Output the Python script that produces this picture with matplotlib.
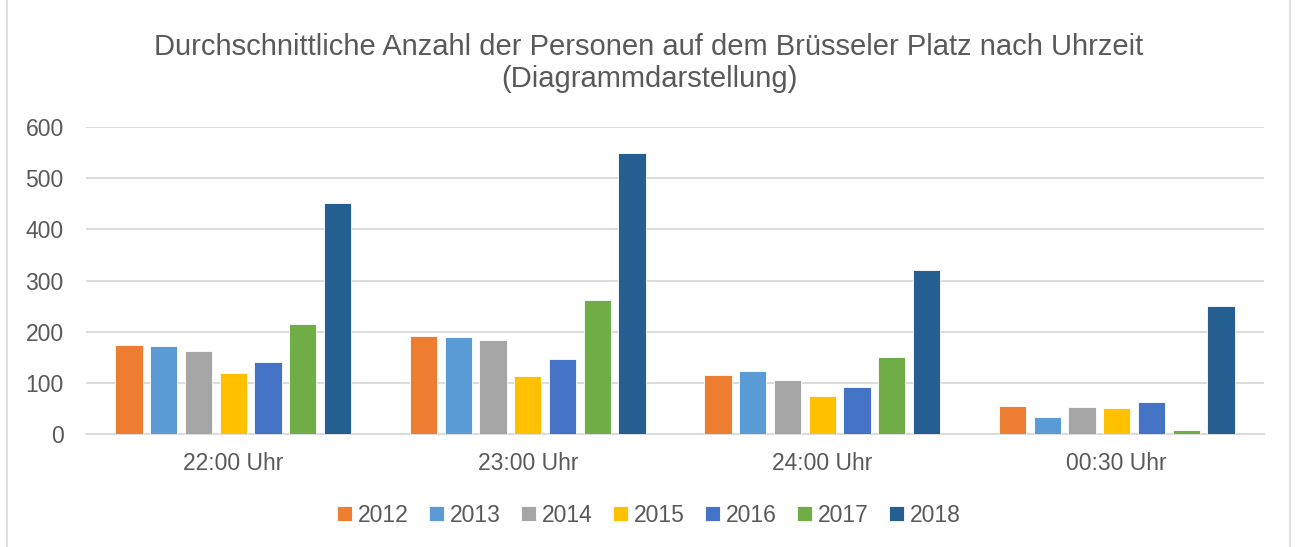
"""Grouped bar chart: persons on Brüsseler Platz by time of day."""
import numpy as np
import matplotlib.pyplot as plt
from matplotlib.patches import Rectangle

plt.rcParams['font.family'] = ['Liberation Sans', 'DejaVu Sans']

categories = ['22:00 Uhr', '23:00 Uhr', '24:00 Uhr', '00:30 Uhr']
years = ['2012', '2013', '2014', '2015', '2016', '2017', '2018']
values_2012 = [173, 191, 116, 54]
values_2013 = [172, 189, 123, 33]
values_2014 = [162, 183, 105, 52]
values_2015 = [119, 113, 75, 50]
values_2016 = [140, 147, 92, 63]
values_2017 = [215, 262, 150, 7]
values_2018 = [452, 550, 320, 251]
series = [values_2012, values_2013, values_2014, values_2015,
          values_2016, values_2017, values_2018]
colors = ['#ED7D31', '#5B9BD5', '#A5A5A5', '#FFC000',
          '#4472C4', '#70AD47', '#255E91']

fig = plt.figure(figsize=(12.98, 5.47), dpi=100)
ax = fig.add_axes([86 / 1298, 1 - 434 / 547, (1264 - 86) / 1298, (434 - 127) / 547])

x = np.arange(len(categories))
step = 0.118
width = 0.092
for i, (vals, year, col) in enumerate(zip(series, years, colors)):
    ax.bar(x + (i - 3) * step, vals, width, color=col, label=year,
           edgecolor='white', linewidth=0.6, zorder=3)

ax.set_xlim(-0.5, 3.5)
ax.set_ylim(0, 600)
ax.set_yticks(range(0, 601, 100))
ax.set_xticks(x)
ax.set_xticklabels(categories)
ax.grid(axis='y', color='#D9D9D9', linewidth=1.3, zorder=0)
for s in ['top', 'right', 'left']:
    ax.spines[s].set_visible(False)
ax.spines['bottom'].set_color('#D9D9D9')
ax.spines['bottom'].set_linewidth(1.3)
ax.tick_params(axis='both', length=0, labelsize=16.5, colors='#595959')
ax.tick_params(axis='y', pad=16)
ax.tick_params(axis='x', pad=13)

fig.text(0.5, 1 - 63 / 547, 'Durchschnittliche Anzahl der Personen auf dem Brüsseler Platz nach Uhrzeit\n(Diagrammdarstellung)',
         ha='center', va='center', fontsize=21, color='#595959', linespacing=1.22)

fig.legend(loc='center', bbox_to_anchor=(0.5, 1 - 515 / 547), ncol=7, frameon=False,
           fontsize=16.5, labelcolor='#595959', handlelength=0.65, handleheight=0.65,
           handletextpad=0.25, columnspacing=0.9)

fig.add_artist(Rectangle((7 / 1298, -0.01), 1283 / 1298, 1.02, transform=fig.transFigure,
                         fill=False, edgecolor='#D9D9D9', linewidth=1.2))

plt.savefig('out.png', dpi=100)
